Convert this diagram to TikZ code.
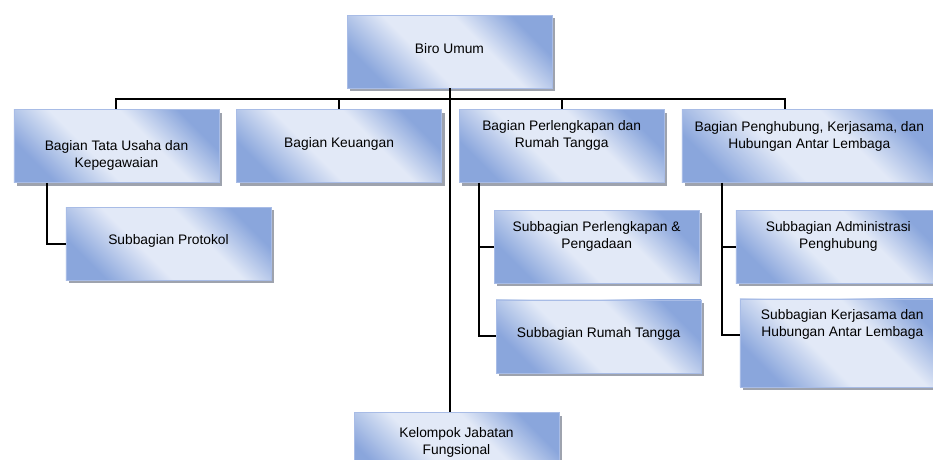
\documentclass[tikz,border=0pt]{standalone}
\usepackage{fontspec}
\setmainfont{Liberation Sans}
\usetikzlibrary{shapes,shadows,calc}
\usetikzlibrary{positioning}
\definecolor{boxdark}{RGB}{138,166,220}
\definecolor{boxlight}{RGB}{226,233,247}
\definecolor{boxline}{RGB}{168,188,230}
\definecolor{shadowgray}{RGB}{158,163,174}
\pgfdeclarehorizontalshading{boxshade}{100bp}{color(0bp)=(boxdark); color(25bp)=(boxdark);
color(42bp)=(boxlight); color(60bp)=(boxlight); color(75bp)=(boxdark); color(100bp)=(boxdark)}
\newcommand{\btxt}[2][0pt]{\raisebox{\dimexpr#1-3.4pt\relax}[0pt][0pt]{\begin{tabular}{@{}c@{}}#2\end{tabular}}}
\tikzstyle{box}=[draw=boxline, line width=0.6pt, minimum width=205pt, minimum height=73pt,
inner sep=0pt, shading=boxshade, shading angle=45,
drop shadow={shadow xshift=3pt, shadow yshift=-3pt, fill=shadowgray, opacity=1},
font=\fontsize{13.8}{17}\selectfont]
\tikzstyle{link}=[line width=2pt, black]
\begin{document}
\begin{tikzpicture}[node distance=21pt]
    \useasboundingbox (-449.5pt,51.5pt) rectangle (483.5pt,-407.5pt);

    \node[box] (biro) {\btxt[1.5pt]{Biro Umum}};

    \node[box, below=of biro, xshift=-333pt] (tu) {\btxt[-10pt]{Bagian Tata Usaha dan\\Kepegawaian}};
    \node[box, right=17pt of tu] (ku) {\btxt[2pt]{Bagian Keuangan}};
    \node[box, right=17pt of ku] (pl) {\btxt[10pt]{Bagian Perlengkapan dan\\Rumah Tangga}};
    \node[box, right=17pt of pl, minimum width=255pt] (ph) {\btxt[9pt]{Bagian Penghubung, Kerjasama, dan\\Hubungan Antar Lembaga}};

    \node[box, below=24pt of tu, xshift=52pt] (prot) {\btxt[2pt]{Subbagian Protokol}};

    \node[box, below=27pt of pl, xshift=35pt] (spl) {\btxt[10pt]{Subbagian Perlengkapan \&\\Pengadaan}};
    \node[box, below=16pt of spl, xshift=2pt] (srt) {\btxt[2pt]{Subbagian Rumah Tangga}};

    \node[box, right=36pt of spl] (sadm) {\btxt[10pt]{Subbagian Administrasi\\Penghubung}};
    \node[box, below=15pt of sadm, xshift=4pt, minimum height=88pt] (skj) {\btxt[18pt]{Subbagian Kerjasama dan\\Hubungan Antar Lembaga}};

    \node[box, below=324pt of biro, xshift=7pt] (kj) {\btxt[6.5pt]{Kelompok Jabatan\\Fungsional}};

    % garis
    \draw[link] (biro.south) -- (biro.south |- kj.north);
    \draw[link] (biro.south) -- ++(0,-11pt) -| (tu.north);
    \draw[link] (biro.south) -- ++(0,-11pt) -| (ku.north);
    \draw[link] (biro.south) -- ++(0,-11pt) -| (pl.north);
    \draw[link] (biro.south) -- ++(0,-11pt) -| ([xshift=103pt]ph.north west);

    \draw[link] ([xshift=33pt]tu.south west) |- (prot.west);
    \draw[link] ([xshift=20pt]pl.south west) |- (spl.west);
    \draw[link] ([xshift=20pt]pl.south west) |- (srt.west);
    \draw[link] ([xshift=40pt]ph.south west) |- (sadm.west);
    \draw[link] ([xshift=40pt]ph.south west) |- ([yshift=8pt]skj.west);

\end{tikzpicture}
\end{document}
